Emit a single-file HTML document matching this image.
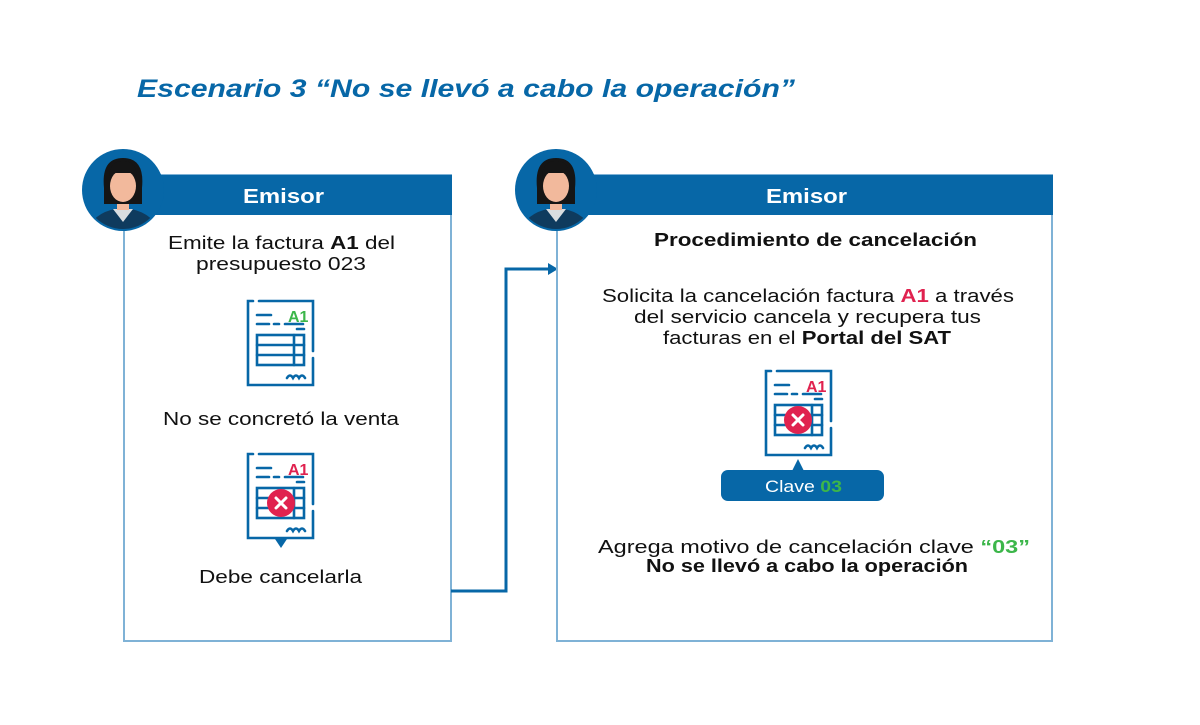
<!DOCTYPE html>
<html><head><meta charset="utf-8"><style>
body{margin:0;width:1200px;height:720px;background:#fff;overflow:hidden;font-family:"Liberation Sans",sans-serif;}
</style></head><body>
<svg width="1200" height="720" viewBox="0 0 1200 720" xmlns="http://www.w3.org/2000/svg" font-family="Liberation Sans, sans-serif">
<defs>
<g id="doc" fill="none" stroke="#0767a7" stroke-width="2.6" stroke-linecap="round">
  <path d="M12 1 H66 V51 M66 58 V85 H1 V1 H6"/>
  <path d="M10 15 H24 M10 24 H22 M27 24 H32 M38 24 H56 M50 29 H57"/>
  <rect x="10" y="35" width="47" height="30"/>
  <path d="M10 45 H57 M10 55 H57 M47 35 V65"/>
  <path d="M40 78 q3 -5 6 0 q3 -5 6 0 q3 -5 6 0" />
</g>
<g id="avatar">
  <circle r="41" fill="#0767a7"/>
  <clipPath id="cc"><circle r="39"/></clipPath>
  <g clip-path="url(#cc)">
    <path d="M-38 45 Q-30 20 0 18 Q30 20 38 45Z" fill="#0f3b5e"/>
    <path d="M-10 19 L0 32 L10 19Z" fill="#d9dde0"/>
    <rect x="-6" y="5" width="12" height="15" fill="#f2b99c"/>
    <path d="M-19 -2 Q-22 -32 0 -32 Q22 -32 19 -2 L19 14 L-19 14Z" fill="#151515"/>
    <ellipse cx="0" cy="-4" rx="13" ry="16" fill="#f2b99c"/>
    <path d="M-14 -14 Q-12 -30 0 -29 Q12 -30 14 -14 L14 -17 L-14 -17Z" fill="#151515"/>
  </g>
</g>
</defs>
<text x="137" y="97" font-size="25" font-weight="bold" font-style="italic" fill="#0767a7" textLength="658" lengthAdjust="spacingAndGlyphs">Escenario 3 “No se llevó a cabo la operación”</text>

<!-- left box -->
<rect x="124" y="175" width="327" height="466" fill="none" stroke="#7fb2d6" stroke-width="2"/>
<rect x="124" y="175" width="328" height="40" fill="#0767a7"/>
<text x="243" y="203" font-size="20" font-weight="bold" fill="#fff" textLength="81" lengthAdjust="spacingAndGlyphs">Emisor</text>
<use href="#avatar" x="123" y="190"/>
<g font-size="18" fill="#111">
<text x="168" y="249" textLength="227" lengthAdjust="spacingAndGlyphs">Emite la factura <tspan font-weight="bold">A1</tspan> del</text>
<text x="196" y="270" textLength="170" lengthAdjust="spacingAndGlyphs">presupuesto 023</text>
<text x="163" y="425" textLength="236" lengthAdjust="spacingAndGlyphs">No se concretó la venta</text>
<text x="199" y="583" textLength="163" lengthAdjust="spacingAndGlyphs">Debe cancelarla</text>
</g>
<use href="#doc" x="247" y="300"/>
<text x="288" y="322" font-size="16" font-weight="bold" fill="#3cb64a">A1</text>
<use href="#doc" x="247" y="453"/>
<text x="288" y="475" font-size="16" font-weight="bold" fill="#e0224f">A1</text>
<path d="M275 539 L281 548 L287 539Z" fill="#0767a7"/>
<circle cx="281" cy="503" r="14" fill="#e0224f"/>
<path d="M276 498 L286 508 M286 498 L276 508" stroke="#fff" stroke-width="3" stroke-linecap="round"/>

<!-- connector -->
<path d="M451 591 H506 V269 H550" fill="none" stroke="#0767a7" stroke-width="3"/>
<path d="M548 263 L558 269 L548 275Z" fill="#0767a7"/>

<!-- right box -->
<rect x="557" y="175" width="495" height="466" fill="none" stroke="#7fb2d6" stroke-width="2"/>
<rect x="557" y="175" width="496" height="40" fill="#0767a7"/>
<text x="766" y="203" font-size="20" font-weight="bold" fill="#fff" textLength="81" lengthAdjust="spacingAndGlyphs">Emisor</text>
<use href="#avatar" x="556" y="190"/>
<g font-size="18" fill="#111">
<text x="654" y="246" font-weight="bold" textLength="323" lengthAdjust="spacingAndGlyphs">Procedimiento de cancelación</text>
<text x="602" y="302" textLength="412" lengthAdjust="spacingAndGlyphs">Solicita la cancelación factura <tspan font-weight="bold" fill="#e0224f">A1</tspan> a través</text>
<text x="634" y="323" textLength="347" lengthAdjust="spacingAndGlyphs">del servicio cancela y recupera tus</text>
<text x="663" y="344" textLength="288" lengthAdjust="spacingAndGlyphs">facturas en el <tspan font-weight="bold">Portal del SAT</tspan></text>
<text x="598" y="553" textLength="432" lengthAdjust="spacingAndGlyphs">Agrega motivo de cancelación clave <tspan font-weight="bold" fill="#3cb64a">“03”</tspan></text>
<text x="646" y="572" font-weight="bold" textLength="322" lengthAdjust="spacingAndGlyphs">No se llevó a cabo la operación</text>
</g>
<use href="#doc" x="765" y="370"/>
<text x="806" y="392" font-size="16" font-weight="bold" fill="#e0224f">A1</text>
<circle cx="798" cy="420" r="14" fill="#e0224f"/>
<path d="M793 415 L803 425 M803 415 L793 425" stroke="#fff" stroke-width="3" stroke-linecap="round"/>
<path d="M792 471 L798 459 L804 471Z" fill="#0767a7"/>
<rect x="721" y="470" width="163" height="31" rx="7" fill="#0767a7"/>
<text x="765" y="492" font-size="17" fill="#fff" textLength="77" lengthAdjust="spacingAndGlyphs">Clave <tspan font-weight="bold" fill="#3cb64a">03</tspan></text>
</svg>
</body></html>
